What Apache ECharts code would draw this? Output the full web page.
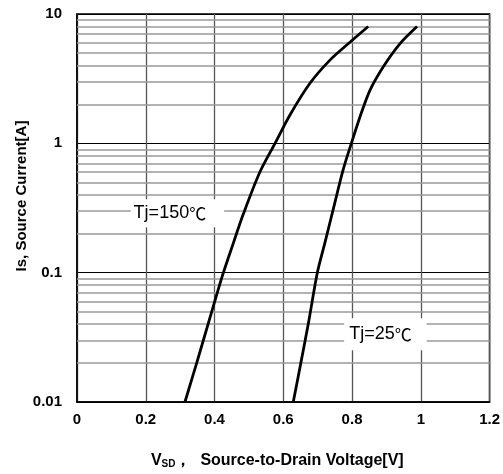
<!DOCTYPE html>
<html>
<head>
<meta charset="utf-8">
<script src="https://cdn.jsdelivr.net/npm/echarts@6/dist/echarts.min.js"></script>
<style>
  html, body { margin: 0; padding: 0; background: #fff; }
  #chart { width: 503px; height: 474px; }
</style>
</head>
<body>
<div id="chart"></div>
<script>
// Is vs Vsd
const vsd25 = [0.629, 0.651, 0.674, 0.699, 0.721, 0.745, 0.774, 0.798, 0.823, 0.852, 0.890, 0.939, 0.989];
const is25 = [0.01, 0.02, 0.042, 0.1, 0.17, 0.307, 0.623, 1.0, 1.6, 2.57, 3.88, 5.88, 8.0];

const vsd150 = [0.314, 0.348, 0.39, 0.423, 0.455, 0.484, 0.532, 0.576, 0.619, 0.677, 0.735, 0.794, 0.847];
const is150 = [0.01, 0.02, 0.048, 0.095, 0.17, 0.285, 0.60, 1.0, 1.65, 2.9, 4.38, 6.05, 8.0];

const decades = [0.01, 0.1, 1];
const minorSteps = [2, 3, 4, 5, 6, 7, 8, 9];

const font = "'Liberation Sans', Arial, sans-serif";
const cjk = "'Noto Sans CJK SC', sans-serif";

// gray gridlines at 2..9 of each decade
const minorLines = [];
decades.forEach(d => {
  minorSteps.forEach(m => minorLines.push({ yAxis: +(d * m).toPrecision(3) }));
});

const pairs = (xs, ys) => xs.map((x, i) => [x, ys[i]]);

const tagRich = {
  a: { fontFamily: font, fontSize: 18, color: "#000" },
  c: { fontFamily: cjk, fontSize: 17, color: "#000" },
};

const chart = echarts.init(document.getElementById("chart"));
chart.setOption({
  animation: false,
  grid: {
    left: 77,
    right: 13,
    top: 14,
    bottom: 70,
    show: true,
    borderColor: "#000",
    borderWidth: 1.5,
  },
  xAxis: {
    type: "value",
    min: 0,
    max: 1.2,
    interval: 0.2,
    axisLine: { show: true, lineStyle: { color: "#000", width: 1.5 } },
    axisTick: { show: false },
    axisLabel: {
      color: "#000",
      fontFamily: font,
      fontWeight: "bold",
      fontSize: 15,
      margin: 10,
      formatter: v => String(parseFloat(v.toFixed(1))),
    },
    splitLine: { show: true, lineStyle: { color: "#555", width: 1.3 } },
    name: "{v|V}{s|SD}{t|，  Source-to-Drain Voltage[V]}",
    nameLocation: "middle",
    nameGap: 50,
    nameMoveOverlap: false,
    nameTextStyle: {
      padding: [0, 12, 0, 0],
      rich: {
        v: { fontFamily: font, fontWeight: "bold", fontSize: 16, color: "#000" },
        s: { fontFamily: font, fontWeight: "bold", fontSize: 10, color: "#000", verticalAlign: "bottom", padding: [7, 0, 0, 0] },
        t: { fontFamily: font, fontWeight: "bold", fontSize: 16, color: "#000" },
      },
    },
  },
  yAxis: {
    type: "log",
    logBase: 10,
    min: 0.01,
    max: 10,
    axisLine: { show: true, lineStyle: { color: "#000", width: 1.5 } },
    axisTick: { show: false },
    axisLabel: {
      color: "#000",
      fontFamily: font,
      fontWeight: "bold",
      fontSize: 15,
      margin: 15,
      formatter: v => String(Number(v.toPrecision(3))),
    },
    splitLine: { show: true, lineStyle: { color: "#000", width: 1.2 } },
    name: "Is, Source Current[A]",
    nameLocation: "middle",
    nameGap: 48,
    nameMoveOverlap: false,
    nameTextStyle: {
      fontFamily: font,
      fontWeight: "bold",
      fontSize: 15,
      color: "#000",
      padding: [0, 0, 0, 24],
    },
  },
  series: [
    {
      name: "grid",
      type: "line",
      data: [],
      silent: true,
      markLine: {
        silent: true,
        symbol: "none",
        label: { show: false },
        lineStyle: { color: "#999", type: "solid", width: 1.5 },
        data: minorLines,
      },
    },
    {
      name: "Tj=150℃",
      type: "line",
      data: pairs(vsd150, is150),
      smooth: 0.3,
      showSymbol: false,
      lineStyle: { color: "#000", width: 2.8 },
      z: 5,
      markPoint: {
        symbol: "rect",
        symbolSize: 0,
        label: {
          show: true,
          formatter: "{a|Tj=150}{c|℃}",
          backgroundColor: "#fff",
          padding: [5, 18, 5, 3],
          rich: tagRich,
        },
        data: [{ coord: [0.292, 0.288] }],
      },
    },
    {
      name: "Tj=25℃",
      type: "line",
      data: pairs(vsd25, is25),
      smooth: 0.3,
      showSymbol: false,
      lineStyle: { color: "#000", width: 2.8 },
      z: 5,
      markPoint: {
        symbol: "rect",
        symbolSize: 0,
        label: {
          show: true,
          formatter: "{a|Tj=25}{c|℃}",
          backgroundColor: "#fff",
          padding: [7, 15, 7, 5],
          rich: tagRich,
        },
        data: [{ coord: [0.897, 0.0334] }],
      },
    },
  ],
});
</script>
</body>
</html>
